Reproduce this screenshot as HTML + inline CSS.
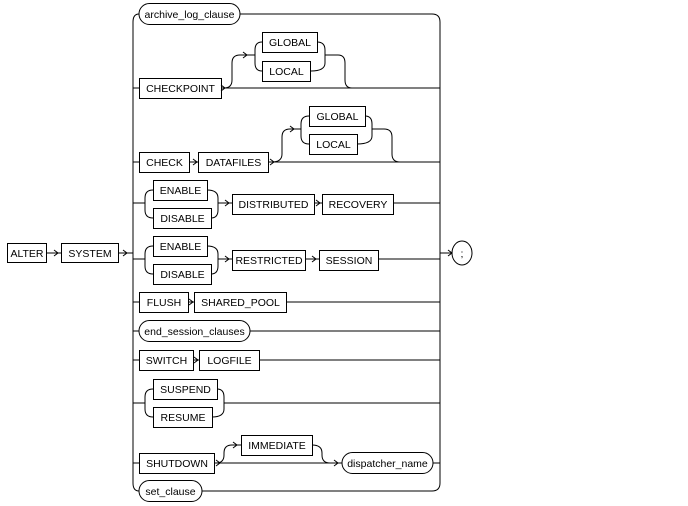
<!DOCTYPE html>
<html><head><meta charset="utf-8"><style>
html,body{margin:0;padding:0;background:#fff;}
svg{display:block;}
text{font-family:"Liberation Sans",sans-serif;font-size:10.5px;fill:#000;text-anchor:middle;}
</style></head><body>
<svg width="688" height="506" viewBox="0 0 688 506" xmlns="http://www.w3.org/2000/svg">
<g fill="none" stroke="#000" stroke-width="1">
<path d="M139,14 Q133,14 133,22 L133,483 Q133,491 139,491"/>
<path d="M240,14 L432,14 Q440,14 440,22 L440,483 Q440,491 432,491 L202,491"/>
<path d="M46,253 L61,253 M118,253 L133,253"/>
<path d="M440,253 L452,253"/>
<ellipse cx="462" cy="253" rx="10" ry="12"/>
<path d="M133,88 L139,88 M221,88 L440,88"/>
<path d="M224,88 Q232,88 232,80 L232,63 Q232,55 240,55 L255,55"/>
<path d="M262,42 Q255,42 255,50 L255,63 Q255,71 262,71"/>
<path d="M317,42 Q325,42 325,50 L325,63 Q325,71 311,71 M325,55 L338,55 Q345,55 345,63 L345,80 Q345,88 352,88"/>
<path d="M133,162 L139,162 M189,162 L198,162 M268,162 L440,162"/>
<path d="M272,162 Q282,162 282,154 L282,137 Q282,129 290,129 L301,129"/>
<path d="M309,116 Q301,116 301,124 L301,136 Q301,144 309,144"/>
<path d="M365,116 Q372,116 372,124 L372,136 Q372,144 357,144 M372,129 L384,129 Q392,129 392,137 L392,154 Q392,162 400,162"/>
<path d="M133,203 L145,203 M153,190 Q145,190 145,198 L145,210 Q145,218 153,218"/>
<path d="M207,190 Q218,190 218,198 L218,210 Q218,218 211,218 M218,203 L232,203 M314,203 L322,203 M393,203 L440,203"/>
<path d="M133,259 L145,259 M153,246 Q145,246 145,254 L145,266 Q145,274 153,274"/>
<path d="M207,246 Q218,246 218,254 L218,266 Q218,274 211,274 M218,259 L232,259 M305,259 L319,259 M378,259 L440,259"/>
<path d="M133,302 L139,302 M188,302 L194,302 M286,302 L440,302"/>
<path d="M133,331 L139,331 M250,331 L440,331"/>
<path d="M133,360 L139,360 M193,360 L199,360 M259,360 L440,360"/>
<path d="M133,403 L145,403 M153,389 Q145,389 145,397 L145,409 Q145,417 153,417"/>
<path d="M217,389 Q224,389 224,397 L224,409 Q224,417 212,417 M224,403 L440,403"/>
<path d="M133,463 L139,463 M214,463 L342,463 M433,463 L440,463"/>
<path d="M216,463 Q224,463 224,455 L224,453 Q224,445 232,445 L241,445"/>
<path d="M312,445 Q322,445 322,453 L322,455 Q322,463 330,463"/>
<path d="M54,250 L58,253 L54,256 M123,250 L127,253 L123,256 M448,250 L452,253 L448,256
M221,85 L225,88 L221,91 M243,52 L247,55 L243,58
M193,159 L197,162 L193,165 M270,159 L274,162 L270,165 M290,126 L294,129 L290,132
M225,200 L229,203 L225,206 M316,200 L320,203 L316,206
M225,256 L229,259 L225,262 M312,256 L316,259 L312,262
M189,299 L193,302 L189,305 M194,357 L198,360 L194,363
M216,460 L220,463 L216,466 M233,442 L237,445 L233,448 M334,460 L338,463 L334,466"/>
<rect x="139" y="3.5" width="101" height="21" rx="10.5"/>
<rect x="139.5" y="78.5" width="82" height="20"/>
<rect x="262.5" y="32.5" width="55" height="20"/>
<rect x="262.5" y="61.5" width="48" height="20"/>
<rect x="139.5" y="152.5" width="50" height="20"/>
<rect x="198.5" y="152.5" width="70" height="20"/>
<rect x="309.5" y="106.5" width="56" height="20"/>
<rect x="309.5" y="134.5" width="48" height="20"/>
<rect x="153.5" y="180.5" width="54" height="20"/>
<rect x="153.5" y="208.5" width="58" height="20"/>
<rect x="232.5" y="194.5" width="82" height="20"/>
<rect x="322.5" y="194.5" width="71" height="20"/>
<rect x="7.5" y="243.5" width="39" height="19"/>
<rect x="61.5" y="243.5" width="57" height="19"/>
<rect x="153.5" y="236.5" width="54" height="20"/>
<rect x="153.5" y="264.5" width="58" height="20"/>
<rect x="232.5" y="250.5" width="73" height="20"/>
<rect x="319.5" y="250.5" width="59" height="20"/>
<rect x="139.5" y="292.5" width="49" height="20"/>
<rect x="194.5" y="292.5" width="92" height="20"/>
<rect x="139" y="320.5" width="111" height="21" rx="10.5"/>
<rect x="139.5" y="350.5" width="54" height="20"/>
<rect x="199.5" y="350.5" width="60" height="20"/>
<rect x="153.5" y="379.5" width="64" height="20"/>
<rect x="153.5" y="407.5" width="59" height="20"/>
<rect x="139.5" y="453.5" width="75" height="20"/>
<rect x="241.5" y="435.5" width="71" height="20"/>
<rect x="342" y="452.5" width="91" height="21" rx="10.5"/>
<rect x="139" y="480.5" width="63" height="21" rx="10.5"/>
</g>
<g>
<text x="189.5" y="18">archive_log_clause</text>
<text x="180.5" y="92">CHECKPOINT</text>
<text x="290" y="46">GLOBAL</text>
<text x="286.5" y="75">LOCAL</text>
<text x="164.5" y="166">CHECK</text>
<text x="233.5" y="166">DATAFILES</text>
<text x="337.5" y="120">GLOBAL</text>
<text x="333.5" y="148">LOCAL</text>
<text x="180.5" y="194">ENABLE</text>
<text x="182.5" y="222">DISABLE</text>
<text x="273.5" y="208">DISTRIBUTED</text>
<text x="358" y="208">RECOVERY</text>
<text x="27" y="257">ALTER</text>
<text x="90" y="257">SYSTEM</text>
<text x="180.5" y="250">ENABLE</text>
<text x="182.5" y="278">DISABLE</text>
<text x="269" y="264">RESTRICTED</text>
<text x="349" y="264">SESSION</text>
<text x="164" y="306">FLUSH</text>
<text x="240.5" y="306">SHARED_POOL</text>
<text x="194.5" y="335">end_session_clauses</text>
<text x="166.5" y="364">SWITCH</text>
<text x="229.5" y="364">LOGFILE</text>
<text x="185.5" y="393">SUSPEND</text>
<text x="183" y="421">RESUME</text>
<text x="177" y="467">SHUTDOWN</text>
<text x="277" y="449">IMMEDIATE</text>
<text x="387.5" y="467">dispatcher_name</text>
<text x="170.5" y="495">set_clause</text>
<text x="462" y="257">;</text>
</g>
</svg>
</body></html>
